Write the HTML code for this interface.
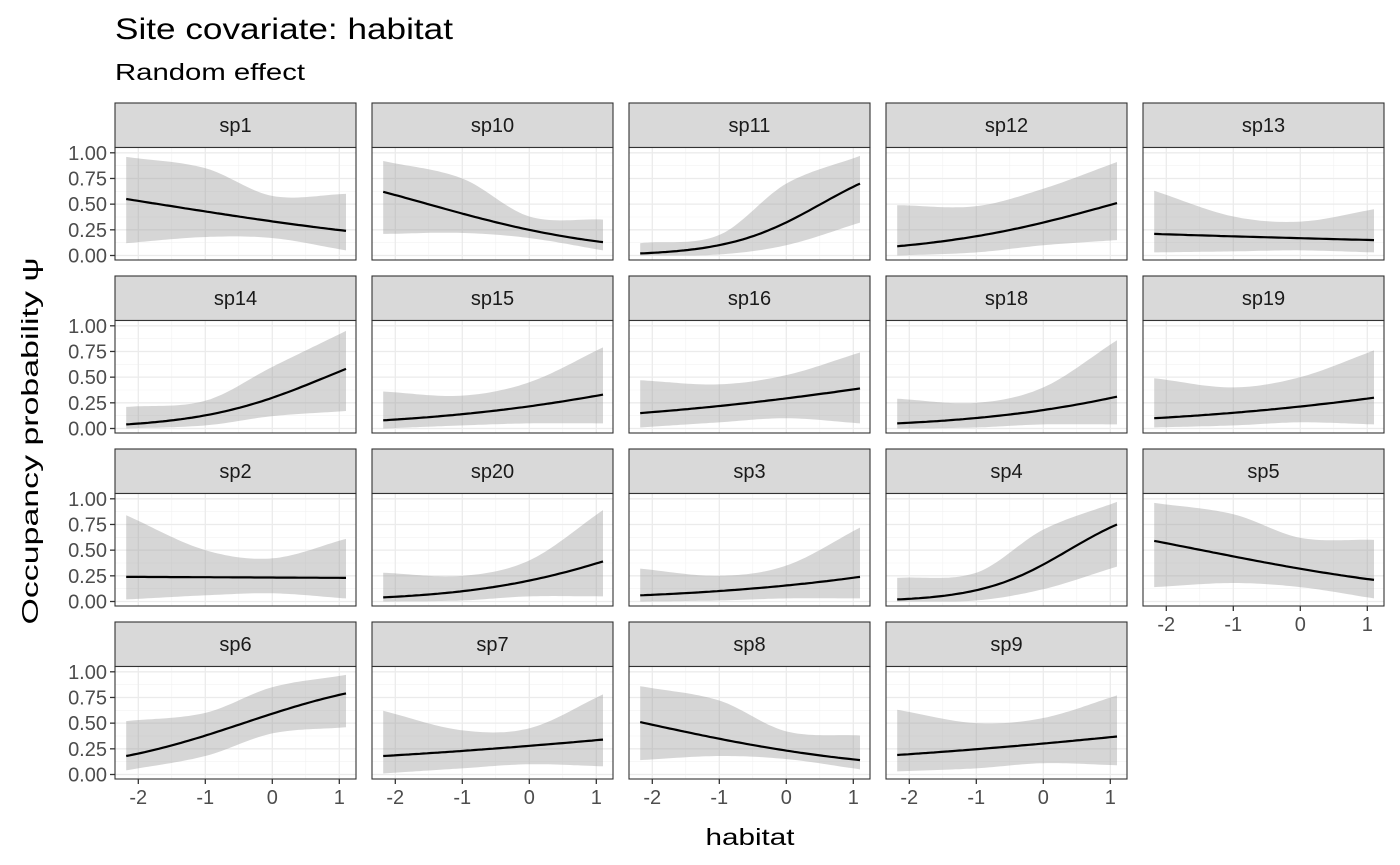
<!DOCTYPE html>
<html><head><meta charset="utf-8"><style>
body{margin:0;background:#fff}
svg{display:block;font-family:"Liberation Sans",sans-serif}
</style></head><body>
<svg id="s" width="1400" height="865" xmlns="http://www.w3.org/2000/svg">
<text x="115" y="39" font-size="30" fill="#000" textLength="338" lengthAdjust="spacingAndGlyphs">Site covariate: habitat</text>
<text x="115" y="80" font-size="23" fill="#000" textLength="190" lengthAdjust="spacingAndGlyphs">Random effect</text>
<text transform="translate(38,441) rotate(-90)" text-anchor="middle" font-size="23" fill="#000" textLength="367" lengthAdjust="spacingAndGlyphs">Occupancy probability ψ</text>
<text x="750" y="845" text-anchor="middle" font-size="23" fill="#000" textLength="89" lengthAdjust="spacingAndGlyphs">habitat</text>
</svg>
<script>
const D=[
["sp1",.55,.24,[.12,.18,.17,.05],[.96,.85,.58,.60]],
["sp10",.62,.13,[.21,.22,.17,.05],[.92,.75,.38,.35]],
["sp11",.02,.70,[.0,.01,.1,.32],[.12,.2,.7,.97]],
["sp12",.09,.51,[.0,.03,.1,.15],[.49,.48,.65,.91]],
["sp13",.21,.15,[.03,.04,.05,.03],[.63,.38,.33,.45]],
["sp14",.04,.58,[.0,.03,.12,.17],[.21,.27,.6,.95]],
["sp15",.08,.33,[.0,.03,.05,.05],[.36,.32,.45,.79]],
["sp16",.15,.39,[.01,.06,.1,.05],[.47,.43,.52,.74]],
["sp18",.05,.31,[.0,.01,.04,.04],[.29,.25,.4,.86]],
["sp19",.10,.30,[.01,.03,.06,.04],[.49,.4,.5,.76]],
["sp2",.24,.23,[.02,.06,.08,.03],[.84,.5,.42,.61]],
["sp20",.04,.39,[.0,.01,.05,.05],[.28,.25,.4,.89]],
["sp3",.06,.24,[.0,.01,.03,.03],[.32,.25,.35,.72]],
["sp4",.02,.75,[.0,.01,.12,.34],[.23,.28,.7,.97]],
["sp5",.59,.21,[.14,.18,.14,.03],[.96,.85,.62,.60]],
["sp6",.18,.79,[.04,.18,.4,.46],[.52,.6,.85,.97]],
["sp7",.18,.34,[.01,.06,.1,.08],[.62,.43,.45,.78]],
["sp8",.51,.14,[.14,.18,.15,.05],[.86,.72,.42,.38]],
["sp9",.19,.37,[.03,.06,.11,.09],[.63,.5,.55,.77]]];
const X0=-2.18,X1=1.1,KX=[-2.18,-1,0,1.1];
const lg=p=>Math.log(p/(1-p)),il=z=>1/(1+Math.exp(-z));
function interp(v,x){
 let i=0; while(i<2&&x>KX[i+1])i++;
 const h=KX[i+1]-KX[i],t=(x-KX[i])/h;
 const sl=j=>{if(j==0)return (v[1]-v[0])/(KX[1]-KX[0]);if(j==3)return (v[3]-v[2])/(KX[3]-KX[2]);return (v[j+1]-v[j-1])/(KX[j+1]-KX[j-1]);};
 const m0=sl(i)*h,m1=sl(i+1)*h,t2=t*t,t3=t2*t;
 return (2*t3-3*t2+1)*v[i]+(t3-2*t2+t)*m0+(-2*t3+3*t2)*v[i+1]+(t3-t2)*m1;
}
let h='';
D.forEach((d,i)=>{
 const c=i%5,r=Math.floor(i/5);
 const L=115+257*c,W=241,ST=103+173*r,PT=ST+44.5,PB=ST+157;
 const fx=v=>L+157.3+67*v, fy=v=>PT+5.3+(1-v)*102.7;
 h+=`<rect x="${L}" y="${ST}" width="${W}" height="${PT-ST}" fill="#d9d9d9" stroke="#333" stroke-width="1.1"/>`;
 h+=`<text x="${L+W/2}" y="${ST+29}" text-anchor="middle" font-size="20" fill="#1a1a1a">${d[0]}</text>`;
 h+=`<rect x="${L}" y="${PT}" width="${W}" height="${PB-PT}" fill="#fff"/>`;
 [0.125,.375,.625,.875].forEach(v=>h+=`<line x1="${L}" x2="${L+W}" y1="${fy(v)}" y2="${fy(v)}" stroke="#f2f2f2" stroke-width="0.6"/>`);
 [-1.5,-.5,.5].forEach(v=>h+=`<line y1="${PT}" y2="${PB}" x1="${fx(v)}" x2="${fx(v)}" stroke="#f2f2f2" stroke-width="0.6"/>`);
 [0,.25,.5,.75,1].forEach(v=>h+=`<line x1="${L}" x2="${L+W}" y1="${fy(v)}" y2="${fy(v)}" stroke="#ebebeb" stroke-width="1.3"/>`);
 [-2,-1,0,1].forEach(v=>h+=`<line y1="${PT}" y2="${PB}" x1="${fx(v)}" x2="${fx(v)}" stroke="#ebebeb" stroke-width="1.3"/>`);
 const N=60;let up=[],lo=[],m=[];
 const a0=lg(Math.max(d[1],.005)),a1=lg(d[2]);
 for(let k=0;k<=N;k++){const x=X0+(X1-X0)*k/N;
  const u=Math.min(1,interp(d[4],x)),l=Math.max(0,interp(d[3],x));
  up.push(fx(x).toFixed(1)+','+fy(u).toFixed(1));
  lo.push(fx(x).toFixed(1)+','+fy(l).toFixed(1));
  m.push(fx(x).toFixed(1)+','+fy(il(a0+(a1-a0)*(x-X0)/(X1-X0))).toFixed(1));}
 h+=`<polygon points="${up.join(' ')} ${lo.reverse().join(' ')}" fill="#999" fill-opacity="0.4"/>`;
 h+=`<polyline points="${m.join(' ')}" fill="none" stroke="#000" stroke-width="2.2"/>`;
 h+=`<rect x="${L}" y="${PT}" width="${W}" height="${PB-PT}" fill="none" stroke="#333" stroke-width="1.1"/>`;
 if(c==0){[0,.25,.5,.75,1].forEach(v=>{h+=`<line x1="${L-5}" x2="${L}" y1="${fy(v)}" y2="${fy(v)}" stroke="#333" stroke-width="1.3"/><text x="${L-8}" y="${fy(v)+7}" text-anchor="end" font-size="20" fill="#4d4d4d">${v.toFixed(2)}</text>`;});}
 if(r==3||i==14){[-2,-1,0,1].forEach(v=>{h+=`<line y1="${PB}" y2="${PB+5}" x1="${fx(v)}" x2="${fx(v)}" stroke="#333" stroke-width="1.3"/><text x="${fx(v)}" y="${PB+25}" text-anchor="middle" font-size="20" fill="#4d4d4d">${v}</text>`;});}
});
document.getElementById('s').insertAdjacentHTML('beforeend',h);
</script>
</body></html>
